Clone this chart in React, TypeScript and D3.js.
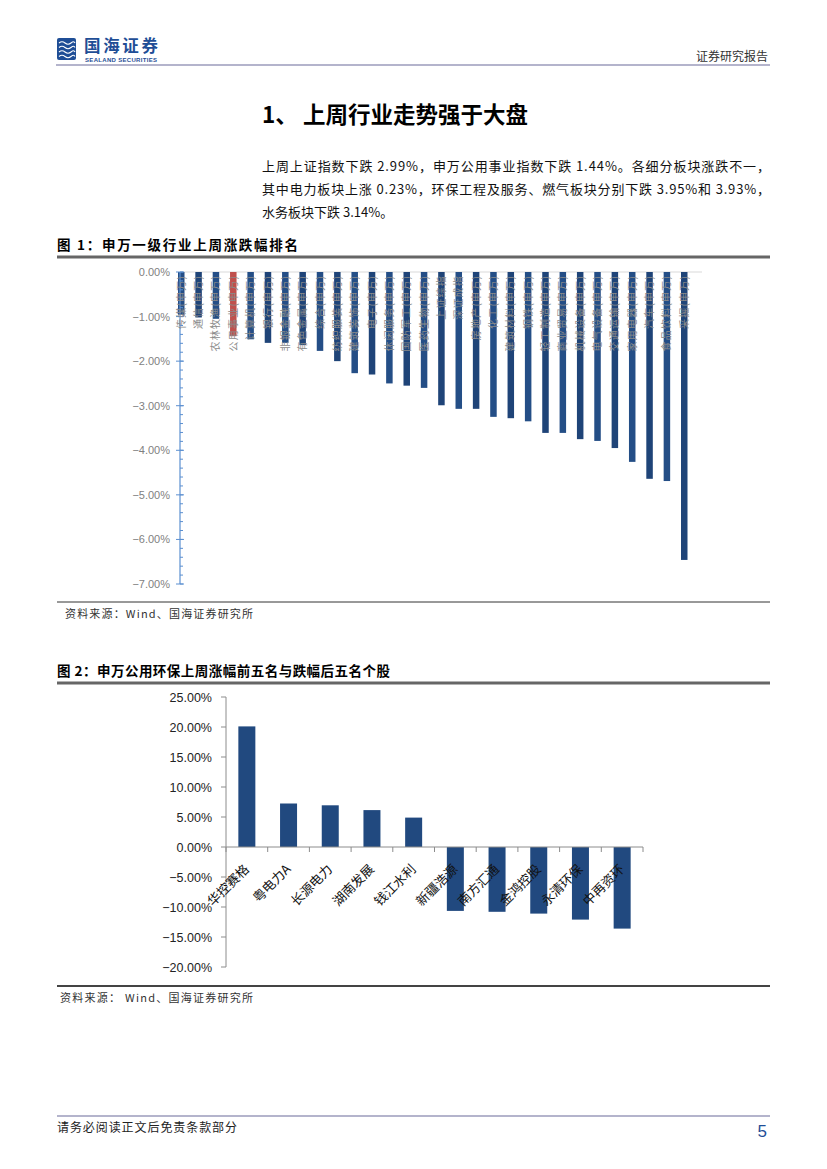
import * as d3 from "d3";

// 图1：申万一级行业上周涨跌幅（%）
const industries = [
  "传媒(申万)", "通信(申万)", "农林牧渔(申万)", "公用事业(申万)", "计算机(申万)",
  "银行(申万)", "非银金融(申万)", "有色金属(申万)", "综合(申万)", "纺织服装(申万)",
  "建筑装饰(申万)", "电子(申万)", "休闲服务(申万)", "国防军工(申万)", "医药生物(申万)",
  "上证综指", "深证成指", "房地产(申万)", "化工(申万)", "建筑材料(申万)",
  "钢铁(申万)", "轻工制造(申万)", "商业贸易(申万)", "机械设备(申万)", "电气设备(申万)",
  "交通运输(申万)", "家用电器(申万)", "汽车(申万)", "食品饮料(申万)", "采掘(申万)",
];
const industryChanges = [
  -0.96, -1.02, -1.05, -1.44, -1.51, -1.59, -1.59, -1.64, -1.77, -2.0,
  -2.27, -2.3, -2.5, -2.55, -2.6, -2.99, -3.07, -3.07, -3.25, -3.28,
  -3.35, -3.61, -3.61, -3.75, -3.79, -3.95, -4.26, -4.64, -4.69, -6.46,
];
const highlight = "公用事业(申万)";
const yTicks1 = [0, -1, -2, -3, -4, -5, -6, -7];

// 图2：申万公用环保上周涨幅前五名与跌幅后五名个股（%）
const stocks = [
  "华控赛格", "粤电力A", "长源电力", "湖南发展", "钱江水利",
  "新疆浩源", "南方汇通", "金鸿控股", "永清环保", "中再资环",
];
const stockChanges = [20.1, 7.25, 6.95, 6.15, 4.9, -10.65, -10.8, -11.1, -12.1, -13.6];
const yTicks2 = [25, 20, 15, 10, 5, 0, -5, -10, -15, -20];

const CJK = "'Noto Sans CJK SC', sans-serif";
const LAT = "'Liberation Sans', Arial, sans-serif";

function Chart1() {
  const y = d3.scaleLinear().domain([-7, 0]).range([584, 272]);
  const x = d3.scalePoint<string>().domain(industries).range([181, 684]);
  const minor = d3.range(-7, 0.001, 0.2);
  const axisX = 180;
  return (
    <g>
      <line x1={axisX} x2={702} y1={y(0)} y2={y(0)} stroke="#d9d9d9" />
      {industries.map((name, i) => {
        const v = industryChanges[i];
        return (
          <rect
            key={name}
            x={x(name)! - 3}
            y={y(0)}
            width={6.5}
            height={y(v) - y(0)}
            fill={name === highlight ? "#c0504d" : i % 2 ? "#1f4478" : "#244e86"}
          />
        );
      })}
      <line x1={axisX} x2={axisX} y1={y(0)} y2={y(-7)} stroke="#5b8fd0" strokeWidth={1.2} />
      {minor.map((t) => (
        <line key={t} x1={axisX} x2={axisX + 3} y1={y(t)} y2={y(t)} stroke="#5b8fd0" />
      ))}
      {yTicks1.map((t) => (
        <g key={t}>
          <line x1={axisX - 4} x2={axisX + 4} y1={y(t)} y2={y(t)} stroke="#5b8fd0" />
          <text x={170} y={y(t) + 4} textAnchor="end" fontSize={11} fontFamily={LAT} fill="#7f7f7f">
            {d3.format(".2f")(t) + "%"}
          </text>
        </g>
      ))}
      {industries.map((name) => (
        <text
          key={name}
          transform={`translate(${x(name)! + 3.8},${y(0) + 3}) rotate(-90)`}
          textAnchor="end"
          fontSize={10}
          letterSpacing={1.2}
          fontFamily={CJK}
          fill="#8a8a8a"
        >
          {name}
        </text>
      ))}
    </g>
  );
}

function Chart2() {
  const y = d3.scaleLinear().domain([-20, 25]).range([967, 697]);
  const x = d3.scaleBand<string>().domain(stocks).range([226, 643]);
  const bw = 17;
  const bounds = d3.range(stocks.length + 1).map((i) => 226 + i * x.step());
  return (
    <g>
      {stocks.map((s, i) => {
        const v = stockChanges[i];
        const cx = x(s)! + x.bandwidth() / 2;
        return (
          <rect
            key={s}
            x={cx - bw / 2}
            y={Math.min(y(v), y(0))}
            width={bw}
            height={Math.abs(y(v) - y(0))}
            fill="#21497f"
          />
        );
      })}
      <line x1={226} x2={226} y1={y(25)} y2={y(-20)} stroke="#8c8c8c" />
      {yTicks2.map((t) => (
        <g key={t}>
          <line x1={221} x2={226} y1={y(t)} y2={y(t)} stroke="#8c8c8c" />
          <text x={212} y={y(t) + 4.5} textAnchor="end" fontSize={12.5} fontFamily={LAT} fill="#222">
            {d3.format(".2f")(t) + "%"}
          </text>
        </g>
      ))}
      <line x1={226} x2={643} y1={y(0)} y2={y(0)} stroke="#8c8c8c" />
      {bounds.map((b) => (
        <line key={b} x1={b} x2={b} y1={y(0)} y2={y(0) + 5} stroke="#8c8c8c" />
      ))}
      {stocks.map((s) => {
        const cx = x(s)! + x.bandwidth() / 2;
        return (
          <text
            key={s}
            transform={`translate(${cx + 3},${y(0) + 23}) rotate(-45)`}
            textAnchor="end"
            fontSize={13}
            fontFamily={CJK}
            fill="#111"
          >
            {s}
          </text>
        );
      })}
    </g>
  );
}

function Logo() {
  return (
    <g>
      <rect x={57} y={38} width={19} height={22} rx={2} fill="#1f4e96" />
      {[0, 1, 2, 3].map((i) => (
        <path
          key={i}
          d={`M59,${43 + i * 4.5} q3,-2.5 6,0 t6,0 t4,0`}
          fill="none"
          stroke="#fff"
          strokeWidth={1.1}
        />
      ))}
      <text x={84} y={52} fontSize={16.5} fontWeight="bold" fontFamily={CJK} fill="#1f4e96" textLength={74}>
        国海证券
      </text>
      <text x={85} y={62} fontSize={6} fontWeight="bold" fontFamily={LAT} fill="#1f4e96" textLength={72}>
        SEALAND SECURITIES
      </text>
    </g>
  );
}

export default function App() {
  return (
    <svg
      width={827}
      height={1169}
      viewBox="0 0 827 1169"
      style={{ position: "absolute", left: 0, top: 0, background: "#fff" }}
    >
      <rect width={827} height={1169} fill="#fff" />
      <Logo />
      <text x={768} y={61} textAnchor="end" fontSize={12} fontFamily={CJK} fill="#333">
        证券研究报告
      </text>
      <line x1={56} x2={770} y1={65} y2={65} stroke="#b4b4cc" strokeWidth={2} />

      <text x={262} y={123} fontSize={22.5} fontWeight="bold" fontFamily={CJK} fill="#000">
        1、 上周行业走势强于大盘
      </text>
      <text x={262} y={171} fontSize={13} fontFamily={CJK} fill="#111" textLength={508} lengthAdjust="spacing">
        上周上证指数下跌 2.99%，申万公用事业指数下跌 1.44%。各细分板块涨跌不一，
      </text>
      <text x={262} y={194} fontSize={13} fontFamily={CJK} fill="#111" textLength={508} lengthAdjust="spacing">
        其中电力板块上涨 0.23%，环保工程及服务、燃气板块分别下跌 3.95%和 3.93%，
      </text>
      <text x={262} y={217} fontSize={13} fontFamily={CJK} fill="#111">
        水务板块下跌 3.14%。
      </text>

      <text x={57} y={250} fontSize={13.5} fontWeight="bold" fontFamily={CJK} fill="#000" textLength={241} lengthAdjust="spacing">
        图 1：申万一级行业上周涨跌幅排名
      </text>
      <line x1={57} x2={770} y1={257} y2={257} stroke="#666" strokeWidth={3} />
      <Chart1 />
      <line x1={57} x2={770} y1={602} y2={602} stroke="#333" strokeWidth={1} />
      <text x={65} y={618} fontSize={11} fontFamily={CJK} fill="#333" textLength={188} lengthAdjust="spacing">
        资料来源：Wind、国海证券研究所
      </text>

      <text x={57} y={676} fontSize={13.5} fontWeight="bold" fontFamily={CJK} fill="#000" textLength={333} lengthAdjust="spacing">
        图 2：申万公用环保上周涨幅前五名与跌幅后五名个股
      </text>
      <line x1={57} x2={770} y1={683} y2={683} stroke="#666" strokeWidth={3} />
      <Chart2 />
      <line x1={57} x2={770} y1={986} y2={986} stroke="#444" strokeWidth={2} />
      <text x={60} y={1002} fontSize={11} fontFamily={CJK} fill="#333" textLength={193} lengthAdjust="spacing">
        资料来源： Wind、国海证券研究所
      </text>

      <line x1={57} x2={770} y1={1116} y2={1116} stroke="#b4b4cc" strokeWidth={2} />
      <text x={57} y={1132} fontSize={12} fontFamily={CJK} fill="#222" textLength={180} lengthAdjust="spacing">
        请务必阅读正文后免责条款部分
      </text>
      <text x={767} y={1137} textAnchor="end" fontSize={17} fontFamily={LAT} fill="#1f4e96">
        5
      </text>
    </svg>
  );
}
